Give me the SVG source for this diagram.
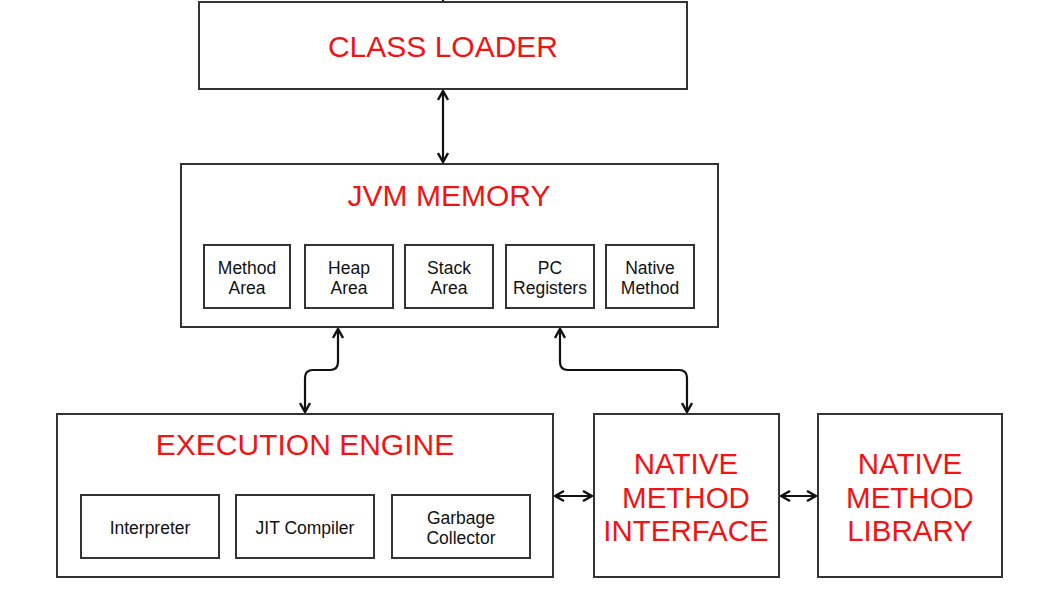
<svg xmlns="http://www.w3.org/2000/svg" width="1037" height="609" viewBox="0 0 1037 609">
<defs>
<style>
.box{fill:#fff;stroke:#333;stroke-width:2}
.t{font-family:"Liberation Sans",Arial,sans-serif;fill:#f01414;text-anchor:middle}
.s{font-family:"Liberation Sans",Arial,sans-serif;fill:#111;text-anchor:middle;font-size:17.5px}
.c{fill:none;stroke:#111;stroke-width:2.2}
</style>
<marker id="a" viewBox="0 0 12 12" refX="11" refY="6" markerWidth="12" markerHeight="12" markerUnits="userSpaceOnUse" orient="auto-start-reverse">
<path d="M2,1 L11,6 L2,11" fill="none" stroke="#111" stroke-width="2.4"/>
</marker>
</defs>
<rect width="1037" height="609" fill="#fff"/>
<g id="connectors">
<line class="c" x1="443" y1="0" x2="443" y2="3"/>
<line class="c" x1="443" y1="91" x2="443" y2="162" marker-start="url(#a)" marker-end="url(#a)"/>
<path class="c" d="M338,329 V362 Q338,370 330,370 H313 Q305,370 305,378 V412" marker-start="url(#a)" marker-end="url(#a)"/>
<path class="c" d="M560,329 V362 Q560,370 568,370 H679 Q687,370 687,378 V412" marker-start="url(#a)" marker-end="url(#a)"/>
<line class="c" x1="555" y1="496" x2="592" y2="496" marker-start="url(#a)" marker-end="url(#a)"/>
<line class="c" x1="781" y1="496" x2="816" y2="496" marker-start="url(#a)" marker-end="url(#a)"/>
</g>
<g id="class-loader">
<rect class="box" x="199" y="2" width="488" height="87"/>
<text class="t" x="443" y="57" font-size="30">CLASS LOADER</text>
</g>
<g id="jvm-memory">
<rect class="box" x="181" y="164" width="537" height="163"/>
<text class="t" x="449" y="206" font-size="30">JVM MEMORY</text>
</g>
<g id="method-area">
<rect class="box" x="204" y="245" width="86" height="63"/>
<text class="s" x="247" y="274">Method</text><text class="s" x="247" y="294">Area</text>
</g>
<g id="heap-area">
<rect class="box" x="305" y="245" width="88" height="63"/>
<text class="s" x="349" y="274">Heap</text><text class="s" x="349" y="294">Area</text>
</g>
<g id="stack-area">
<rect class="box" x="405" y="245" width="88" height="63"/>
<text class="s" x="449" y="274">Stack</text><text class="s" x="449" y="294">Area</text>
</g>
<g id="pc-registers">
<rect class="box" x="506" y="245" width="88" height="63"/>
<text class="s" x="550" y="274">PC</text><text class="s" x="550" y="294">Registers</text>
</g>
<g id="native-method">
<rect class="box" x="606" y="245" width="88" height="63"/>
<text class="s" x="650" y="274">Native</text><text class="s" x="650" y="294">Method</text>
</g>
<g id="execution-engine">
<rect class="box" x="57" y="414" width="496" height="163"/>
<text class="t" x="305" y="455" font-size="30">EXECUTION ENGINE</text>
</g>
<g id="interpreter">
<rect class="box" x="81" y="495" width="138" height="63"/>
<text class="s" x="150" y="534">Interpreter</text>
</g>
<g id="jit-compiler">
<rect class="box" x="236" y="495" width="138" height="63"/>
<text class="s" x="305" y="534">JIT Compiler</text>
</g>
<g id="garbage-collector">
<rect class="box" x="392" y="495" width="138" height="63"/>
<text class="s" x="461" y="524">Garbage</text><text class="s" x="461" y="544">Collector</text>
</g>
<g id="native-method-interface">
<rect class="box" x="594" y="414" width="185" height="163"/>
<text class="t" x="686" y="474" font-size="29.5">NATIVE</text>
<text class="t" x="686" y="508" font-size="29.5">METHOD</text>
<text class="t" x="686" y="541" font-size="29.5">INTERFACE</text>
</g>
<g id="native-method-library">
<rect class="box" x="818" y="414" width="184" height="163"/>
<text class="t" x="910" y="474" font-size="29.5">NATIVE</text>
<text class="t" x="910" y="508" font-size="29.5">METHOD</text>
<text class="t" x="910" y="541" font-size="29.5">LIBRARY</text>
</g>
</svg>
